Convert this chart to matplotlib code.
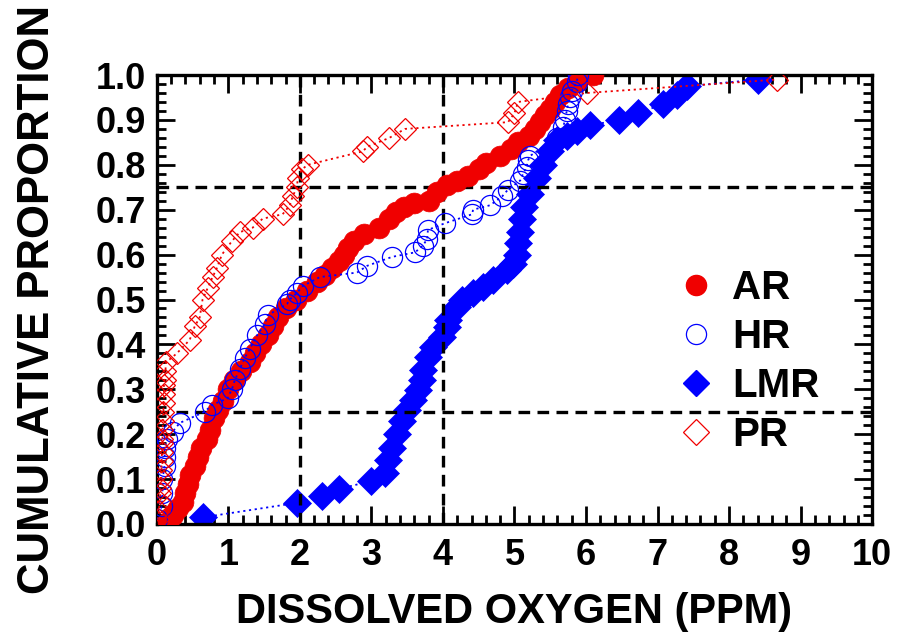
import matplotlib
matplotlib.use("Agg")
import matplotlib.pyplot as plt
from matplotlib.lines import Line2D
from matplotlib.ticker import MultipleLocator, FormatStrFormatter

plt.rcParams['font.family'] = ['Liberation Sans', 'DejaVu Sans']
plt.rcParams['font.weight'] = 'bold'

# ---- data (dissolved oxygen, cumulative proportion) ----
ar_x = [0.15, 0.22, 0.30, 0.36, 0.40, 0.44, 0.47, 0.53, 0.57, 0.62,
        0.70, 0.75, 0.80, 0.86, 0.92, 1.00, 1.08, 1.18, 1.30, 1.38,
        1.45, 1.55, 1.62, 1.70, 1.80, 1.95, 2.10, 2.24, 2.35, 2.45,
        2.55, 2.62, 2.68, 2.75, 2.90, 3.10, 3.25, 3.35, 3.45, 3.60,
        3.80, 3.92, 4.05, 4.20, 4.35, 4.50, 4.60, 4.80, 4.95, 5.05,
        5.20, 5.28, 5.35, 5.42, 5.50, 5.56, 5.64, 5.75, 5.88, 6.10]
ar_y = [0.005, 0.02, 0.035, 0.05, 0.07, 0.09, 0.11, 0.13, 0.15, 0.17,
        0.19, 0.21, 0.235, 0.255, 0.275, 0.30, 0.32, 0.34, 0.36, 0.38,
        0.40, 0.42, 0.44, 0.46, 0.48, 0.50, 0.52, 0.54, 0.555, 0.57,
        0.585, 0.60, 0.615, 0.63, 0.645, 0.66, 0.68, 0.695, 0.705, 0.715,
        0.72, 0.74, 0.755, 0.765, 0.775, 0.79, 0.805, 0.82, 0.835, 0.85,
        0.865, 0.88, 0.895, 0.91, 0.925, 0.94, 0.955, 0.97, 0.985, 1.0]

hr_x = [0.01, 0.07, 0.08, 0.08, 0.11, 0.11, 0.11, 0.14, 0.22, 0.32,
        0.67, 0.77, 0.99, 1.05, 1.09, 1.16, 1.23, 1.30, 1.40, 1.51,
        1.55, 1.82, 1.86, 1.96, 2.04, 2.28, 2.80, 2.94, 3.29, 3.61,
        3.72, 3.78, 3.79, 4.03, 4.41, 4.42, 4.66, 4.83, 4.91, 5.08,
        5.12, 5.17, 5.19, 5.22, 5.59, 5.68, 5.71, 5.73, 5.75, 5.78,
        5.80, 5.87, 5.89]
hr_y = [0.01, 0.04, 0.07, 0.10, 0.13, 0.15, 0.17, 0.19, 0.205, 0.225,
        0.25, 0.265, 0.28, 0.30, 0.32, 0.345, 0.37, 0.39, 0.42, 0.445,
        0.465, 0.49, 0.50, 0.515, 0.53, 0.55, 0.56, 0.575, 0.595, 0.605,
        0.62, 0.635, 0.655, 0.67, 0.69, 0.70, 0.71, 0.73, 0.745, 0.765,
        0.78, 0.795, 0.81, 0.82, 0.86, 0.885, 0.90, 0.92, 0.935, 0.95,
        0.965, 0.985, 1.0]

lmr_x = [0.65, 1.96, 2.31, 2.55, 3.00, 3.19, 3.23, 3.29, 3.36, 3.43,
         3.50, 3.58, 3.65, 3.71, 3.72, 3.79, 3.86, 3.99, 4.06, 4.07,
         4.20, 4.27, 4.42, 4.56, 4.70, 4.90, 4.98, 5.03, 5.05, 5.08,
         5.10, 5.14, 5.22, 5.31, 5.40, 5.50, 5.59, 5.73, 5.87, 6.06,
         6.46, 6.72, 7.08, 7.27, 7.41, 8.41]
lmr_y = [0.015, 0.047, 0.062, 0.078, 0.096, 0.113, 0.143, 0.17, 0.20, 0.23,
         0.254, 0.276, 0.298, 0.32, 0.343, 0.372, 0.394, 0.416, 0.439, 0.454,
         0.483, 0.499, 0.514, 0.528, 0.543, 0.566, 0.58, 0.60, 0.625, 0.65,
         0.68, 0.705, 0.735, 0.77, 0.80, 0.83, 0.855, 0.865, 0.875, 0.888,
         0.90, 0.915, 0.935, 0.955, 0.975, 0.99]

pr_x = [0.02, 0.03, 0.04, 0.05, 0.05, 0.06, 0.06, 0.07, 0.07, 0.08,
        0.08, 0.08, 0.09, 0.09, 0.10, 0.10, 0.10, 0.11, 0.12, 0.13,
        0.28, 0.46, 0.53, 0.60, 0.64, 0.71, 0.78, 0.84, 0.91, 1.05,
        1.16, 1.34, 1.48, 1.76, 1.86, 1.90, 1.96, 1.97, 2.03, 2.11,
        2.88, 2.94, 3.25, 3.47, 4.91, 5.00, 5.05, 6.01, 8.67]
pr_y = [0.01, 0.03, 0.05, 0.07, 0.08, 0.10, 0.12, 0.14, 0.16, 0.18,
        0.19, 0.21, 0.23, 0.25, 0.27, 0.29, 0.31, 0.32, 0.34, 0.36,
        0.38, 0.41, 0.44, 0.46, 0.50, 0.525, 0.55, 0.57, 0.60, 0.63,
        0.65, 0.66, 0.68, 0.69, 0.71, 0.73, 0.75, 0.77, 0.79, 0.80,
        0.83, 0.84, 0.86, 0.88, 0.895, 0.915, 0.94, 0.96, 0.99]

ref_x = [2, 4]
ref_y = [0.25, 0.75]
x_ticks = list(range(0, 11))
y_ticks = [0.0, 0.1, 0.2, 0.3, 0.4, 0.5, 0.6, 0.7, 0.8, 0.9, 1.0]

RED = '#F00000'
BLUE = '#0000FF'
dot = (0, (1.2, 2.0))

fig = plt.figure(figsize=(9.01, 6.38), dpi=100)
ax = fig.add_axes([0.174, 0.1787, 0.794, 0.7037])

# LMR (below the reference lines)
ax.plot(lmr_x, lmr_y, color=BLUE, linestyle=dot, linewidth=1.3,
        marker='D', markersize=14, markerfacecolor=BLUE,
        markeredgecolor=BLUE, markeredgewidth=0.5, zorder=2)

# reference dashed lines
for xv in ref_x:
    ax.axvline(xv, color='black', linestyle=(0, (3.5, 2.2)), linewidth=2.4, zorder=3)
for yv in ref_y:
    ax.axhline(yv, color='black', linestyle=(0, (3.5, 2.2)), linewidth=2.4, zorder=3)

ax.plot(ar_x, ar_y, color=RED, linestyle=dot, linewidth=1.3,
        marker='o', markersize=15, markerfacecolor=RED,
        markeredgecolor=RED, markeredgewidth=0.5, zorder=4)
ax.plot(hr_x, hr_y, color=BLUE, linestyle=dot, linewidth=1.3,
        marker='o', markersize=14.5, markerfacecolor='none',
        markeredgecolor=BLUE, markeredgewidth=0.9, zorder=5)
ax.plot(pr_x, pr_y, color=RED, linestyle=dot, linewidth=1.3,
        marker='D', markersize=11, markerfacecolor='none',
        markeredgecolor=RED, markeredgewidth=0.9, zorder=6)

ax.set_xlim(0, 10)
ax.set_ylim(0, 1)
ax.set_xticks(x_ticks)
ax.set_yticks(y_ticks)
ax.yaxis.set_major_formatter(FormatStrFormatter('%.1f'))
ax.xaxis.set_minor_locator(MultipleLocator(0.2))
ax.yaxis.set_minor_locator(MultipleLocator(0.02))
ax.tick_params(which='both', direction='in', top=True, right=True,
               width=2.0, labelsize=26)
ax.tick_params(which='major', length=13)
ax.tick_params(which='minor', length=6.5)
ax.tick_params(axis='x', which='major', pad=10)
ax.tick_params(axis='y', which='major', pad=8)
for lab in ax.get_xticklabels() + ax.get_yticklabels():
    lab.set_fontweight('bold')
for sp in ax.spines.values():
    sp.set_linewidth(2.4)

ax.set_xlabel('DISSOLVED OXYGEN (PPM)', fontsize=30, fontweight='bold', labelpad=14)
ax.set_ylabel('CUMULATIVE PROPORTION', fontsize=31.5, fontweight='bold', labelpad=27)

handles = [
    Line2D([], [], linestyle='none', marker='o', markersize=14.5,
           markerfacecolor=RED, markeredgecolor=RED),
    Line2D([], [], linestyle='none', marker='o', markersize=14.5,
           markerfacecolor='none', markeredgecolor=BLUE, markeredgewidth=0.9),
    Line2D([], [], linestyle='none', marker='D', markersize=13.5,
           markerfacecolor=BLUE, markeredgecolor=BLUE),
    Line2D([], [], linestyle='none', marker='D', markersize=13,
           markerfacecolor='none', markeredgecolor=RED, markeredgewidth=0.9),
]
leg = ax.legend(handles, ['AR', 'HR', 'LMR', 'PR'], loc='upper left',
                bbox_to_anchor=(0.697, 0.612), frameon=False,
                prop={'size': 29, 'weight': 'bold'}, handlelength=1.0,
                handletextpad=0.4, labelspacing=0.27, borderpad=0.0)
leg.set_zorder(10)

fig.savefig('out.png', dpi=100)
